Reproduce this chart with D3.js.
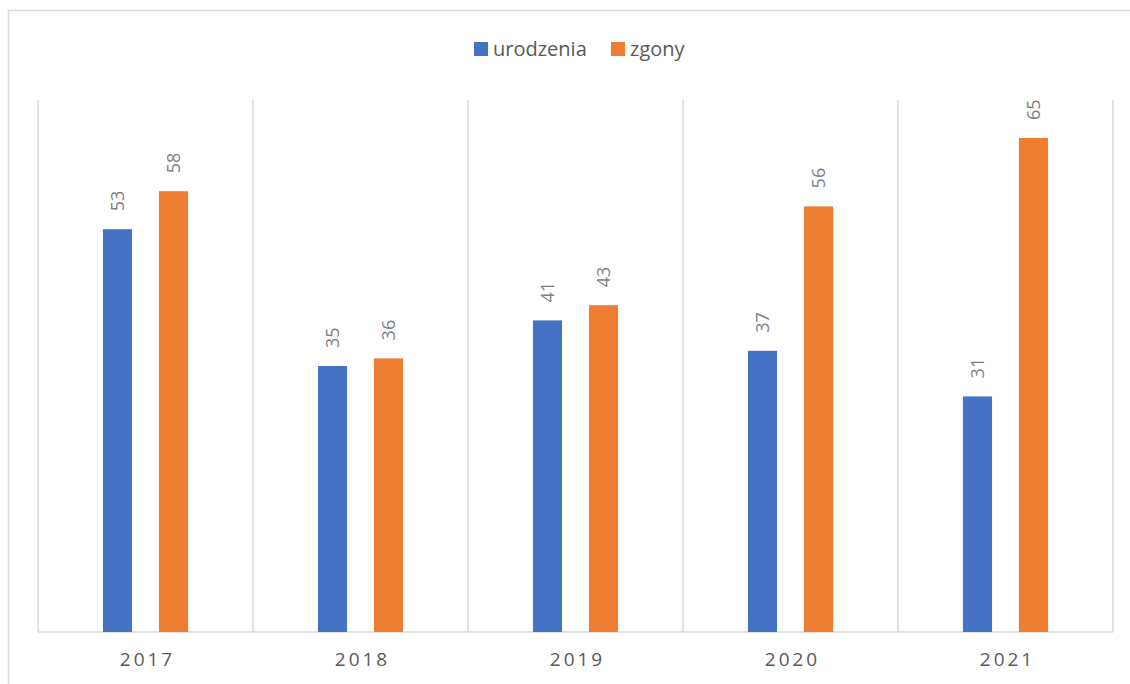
<!DOCTYPE html>
<meta charset="utf-8">
<script src="https://d3js.org/d3.v7.min.js"></script>
<style>
  body { margin: 0; background: #fff; }
  text { font-family: "Open Sans", "Liberation Sans", sans-serif; fill: #595959; }
</style>
<div id="chart"></div>
<script>
// data
var years = ["2017", "2018", "2019", "2020", "2021"];
var series = ["urodzenia", "zgony"];
var urodzenia = [53, 35, 41, 37, 31];
var zgony = [58, 36, 43, 56, 65];
var colors = ["#4472C4", "#ED7D31"];

var W = 1130, H = 684;
var margin = {top: 100, right: 17, bottom: 52, left: 38};

var svg = d3.select("#chart").append("svg")
  .attr("width", W).attr("height", H);

// outer chart border
svg.append("rect")
  .attr("x", 8.5).attr("y", 10.5)
  .attr("width", W).attr("height", H)
  .attr("fill", "none").attr("stroke", "#d9d9d9").attr("stroke-width", 1.5);

var x = d3.scaleBand().domain(years).range([margin.left, W - margin.right]);
var bw = x.bandwidth();
var x1 = d3.scaleBand().domain(series).range([bw * 0.302, bw * 0.698]).paddingInner(0.48);
var y = d3.scaleLinear().domain([0, 70]).range([H - margin.bottom, margin.top]);

// vertical gridlines between categories
var edges = years.map(function(d) { return x(d); }).concat([x.range()[1]]);
svg.append("g").selectAll("line").data(edges).enter().append("line")
  .attr("x1", function(d) { return d; }).attr("x2", function(d) { return d; })
  .attr("y1", y(70)).attr("y2", y(0))
  .attr("stroke", "#d9d9d9").attr("stroke-width", 1.5);

// baseline
svg.append("line")
  .attr("x1", x.range()[0]).attr("x2", x.range()[1])
  .attr("y1", y(0)).attr("y2", y(0))
  .attr("stroke", "#d9d9d9").attr("stroke-width", 1.5);

var rows = years.map(function(yr, i) {
  return {year: yr, vals: [{s: series[0], v: urodzenia[i]}, {s: series[1], v: zgony[i]}]};
});

var groups = svg.append("g").selectAll("g").data(rows).enter().append("g")
  .attr("transform", function(d) { return "translate(" + x(d.year) + ",0)"; });

groups.selectAll("rect").data(function(d) { return d.vals; }).enter().append("rect")
  .attr("x", function(d) { return x1(d.s); })
  .attr("y", function(d) { return y(d.v); })
  .attr("width", x1.bandwidth())
  .attr("height", function(d) { return y(0) - y(d.v); })
  .attr("fill", function(d, i) { return colors[i]; });

groups.selectAll("text").data(function(d) { return d.vals; }).enter().append("text")
  .attr("transform", function(d) {
    return "translate(" + (x1(d.s) + x1.bandwidth() / 2) + "," + (y(d.v) - 18) + ") rotate(-90)";
  })
  .attr("dy", "0.35em")
  .attr("text-anchor", "start")
  .style("font-size", "18px")
  .style("fill", "#7f7f7f")
  .text(function(d) { return d.v; });

// x axis labels
svg.append("g").selectAll("text").data(years).enter().append("text")
  .attr("x", function(d) { return x(d) + bw / 2 + 2; })
  .attr("y", 666)
  .attr("text-anchor", "middle")
  .style("font-size", "19px")
  .style("letter-spacing", "3px")
  .text(function(d) { return d; });

// legend
var legend = svg.append("g");
var lx = [474, 611];
series.forEach(function(s, i) {
  legend.append("rect").attr("x", lx[i]).attr("y", 42).attr("width", 14).attr("height", 14)
    .attr("fill", colors[i]);
  legend.append("text").attr("x", lx[i] + 19).attr("y", 56)
    .style("font-size", "20px").text(s);
});
</script>
